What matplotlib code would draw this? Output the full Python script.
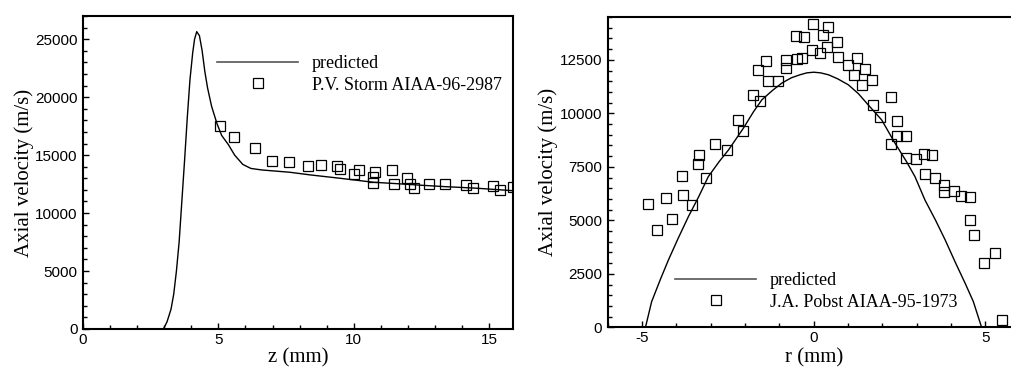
import matplotlib
matplotlib.use("Agg")
import matplotlib.pyplot as plt
from matplotlib.lines import Line2D
from matplotlib.ticker import MultipleLocator

plt.rcParams["axes.unicode_minus"] = False

# ---- left panel: axial velocity along z ----
z_pred = [0.0, 2.97, 3.1, 3.25, 3.35, 3.45, 3.55, 3.65, 3.75, 3.85, 3.95, 4.05, 4.12,
          4.2, 4.3, 4.4, 4.5, 4.6, 4.75, 4.95, 5.12, 5.37, 5.6, 5.9, 6.2, 6.6, 7.64,
          8.4, 9.5, 10.72, 11.5, 12.5, 13.37, 14.5, 15.88]
v_pred = [0, 0, 600, 1700, 3000, 5000, 7500, 11000, 14500, 18200, 21500, 23800, 25000,
          25650, 25300, 24000, 22200, 20800, 19200, 17700, 16700, 15900, 15000, 14200,
          13850, 13720, 13520, 13290, 13000, 12660, 12550, 12400, 12280, 12150, 11930]

z_exp = [5.06, 5.59, 6.34, 6.98, 7.61, 8.31, 8.80, 9.39, 9.50, 10.01, 10.20, 10.71,
         10.71, 10.78, 11.41, 11.48, 11.98, 12.08, 12.23, 12.77, 13.36, 14.13, 14.39,
         15.14, 15.40, 15.87]
v_exp = [17540, 16600, 15590, 14470, 14440, 14090, 14150, 14040, 13800, 13400, 13750,
         13140, 12620, 13550, 13690, 12480, 13000, 12540, 12190, 12480, 12540, 12450,
         12190, 12340, 11990, 12250]

# ---- right panel: axial velocity along r ----
r_pred = [-4.9, -4.72, -4.45, -4.23, -3.95, -3.65, -3.35, -3.07, -2.75, -2.48, -2.05,
          -1.75, -1.51, -1.2, -0.93, -0.65, -0.40, -0.2, 0.0, 0.2, 0.43, 0.7, 1.01, 1.3,
          1.59, 1.98, 2.37, 2.7, 2.95, 3.24, 3.55, 3.83, 4.12, 4.41, 4.65, 4.89]
vr_pred = [0, 1200, 2300, 3150, 4150, 5170, 6100, 7040, 7750, 8290, 9300, 10080, 10630,
           11070, 11410, 11660, 11800, 11890, 11920, 11890, 11800, 11610, 11330, 10920,
           10390, 9690, 8600, 7750, 7040, 5950, 5000, 4080, 3050, 2060, 1200, 0]

r_exp = [-4.83, -4.56, -4.30, -4.14, -3.85, -3.82, -3.55, -3.35, -3.36, -3.15, -2.87,
         -2.52, -2.20, -2.06, -1.78, -1.57, -1.61, -1.38, -1.32, -1.04, -0.82, -0.80,
         -0.53, -0.50, -0.35, -0.29, -0.03, -0.04, 0.19, 0.26, 0.42, 0.39, 0.68, 0.72,
         0.99, 1.26, 1.18, 1.42, 1.48, 1.70, 1.73, 1.93, 2.25, 2.25, 2.43, 2.43, 2.70,
         2.69, 2.98, 3.22, 3.46, 3.25, 3.52, 3.79, 3.79, 4.10, 4.29, 4.54, 4.54, 4.68,
         4.97, 5.28, 5.48]
vr_exp = [5750, 4550, 6050, 5060, 7070, 6190, 5720, 8040, 7650, 6980, 8570, 8300, 9690,
          9180, 10850, 10590, 12040, 12440, 11500, 11520, 12120, 12480, 13620, 12540,
          12590, 13560, 14180, 12960, 12840, 13650, 14030, 13120, 13350, 12620, 12250,
          12590, 11810, 11330, 12080, 11560, 10410, 9850, 10780, 8570, 9640, 8930, 8930,
          7930, 7870, 8120, 8040, 7180, 6970, 6650, 6310, 6370, 6150, 6110, 5020, 4320,
          3020, 3490, 340]

SERIF = "Liberation Serif"
SANS = "Liberation Sans"

W, H = 1012, 368
fig = plt.figure(figsize=(W / 100, H / 100), dpi=100)

def px_axes(x0, x1, y0, y1):
    return fig.add_axes([x0 / W, 1 - y1 / H, (x1 - x0) / W, (y1 - y0) / H])

def style(ax, xmin_step, ymin_step):
    for s in ax.spines.values():
        s.set_linewidth(1.5)
    ax.xaxis.set_minor_locator(MultipleLocator(xmin_step))
    ax.yaxis.set_minor_locator(MultipleLocator(ymin_step))
    ax.tick_params(which="both", direction="in", top=False, right=False, width=1.0)
    ax.tick_params(which="major", length=4.5)
    ax.tick_params(which="minor", length=3)
    ax.tick_params(axis="x", pad=3)
    ax.tick_params(axis="y", pad=4)
    for lab in ax.get_xticklabels() + ax.get_yticklabels():
        lab.set_fontfamily(SANS)
        lab.set_fontsize(11)

mk = dict(marker="s", markersize=7, markerfacecolor="none", markeredgecolor="black",
          markeredgewidth=0.9, linestyle="none")

# left
ax1 = px_axes(83, 513, 16, 329)
ax1.plot(z_pred, v_pred, color="black", lw=1.0)
ax1.plot(z_exp, v_exp, **mk)
ax1.set_xlim(0, 15.88)
ax1.set_ylim(0, 27000)
ax1.set_xticks([0, 5, 10, 15])
ax1.set_yticks([0, 5000, 10000, 15000, 20000, 25000])
style(ax1, 1, 1000)
ax1.set_xlabel("z (mm)", fontfamily=SERIF, fontsize=15, labelpad=1)
ax1.set_ylabel("Axial velocity (m/s)", fontfamily=SERIF, fontsize=15, labelpad=1)

# right
ax2 = px_axes(607.7, 1019.7, 17, 327.3)
ax2.plot(r_pred, vr_pred, color="black", lw=1.0)
ax2.plot(r_exp, vr_exp, clip_on=False, **mk)
ax2.set_xlim(-6, 6)
ax2.set_ylim(0, 14500)
ax2.set_xticks([-5, 0, 5])
ax2.set_yticks([0, 2500, 5000, 7500, 10000, 12500])
style(ax2, 1, 500)
ax2.spines["right"].set_visible(False)
ax2.set_xlabel("r (mm)", fontfamily=SERIF, fontsize=15, labelpad=2)
ax2.set_ylabel("Axial velocity (m/s)", fontfamily=SERIF, fontsize=15, labelpad=1)

def add_legend(ax, label2, anchor):
    h1 = Line2D([], [], color="#555555", lw=1.2)
    h2 = Line2D([], [], **mk)
    ax.legend([h1, h2], ["predicted", label2], loc="upper left", bbox_to_anchor=anchor,
              frameon=False, prop={"family": SERIF, "size": 13}, handlelength=4.49,
              handletextpad=0.76, labelspacing=0.25, borderpad=0, borderaxespad=0)

add_legend(ax1, "P.V. Storm AIAA-96-2987", ((217 - 83) / 430, (329 - 55) / 313))
add_legend(ax2, "J.A. Pobst AIAA-95-1973", ((675.3 - 607.7) / 412, (327.3 - 272) / 310.3))

fig.savefig("out.png", dpi=100)
